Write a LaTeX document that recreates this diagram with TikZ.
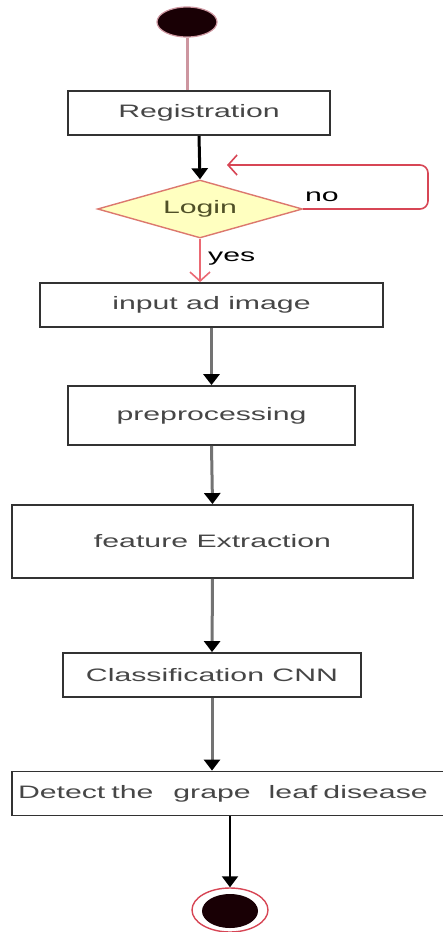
\documentclass[tikz,border=0pt]{standalone}
\usepackage{fontspec}
\newfontfamily\flowfont{Liberation Sans}[FakeStretch=1.68]
\usetikzlibrary{shapes.geometric,arrows.meta,positioning}
\definecolor{boxcolor}{RGB}{50, 50, 50}
\definecolor{textcolor}{RGB}{70, 70, 70}
\definecolor{flowgray}{RGB}{115, 115, 115}
\definecolor{startedge}{RGB}{205, 150, 160}
\definecolor{nocolor}{RGB}{215, 70, 85}
\definecolor{yescolor}{RGB}{235, 105, 115}
\definecolor{diamondfill}{RGB}{255, 255, 192}
\definecolor{diamondedge}{RGB}{220, 120, 110}
\definecolor{logincolor}{RGB}{80, 80, 40}
\definecolor{dotcolor}{RGB}{25, 0, 5}

\begin{document}
\begin{tikzpicture}[
        x=1pt, y=-1pt,
        font=\flowfont\fontsize{18}{21}\selectfont,
        activity/.style={rectangle, draw=boxcolor, line width=1.8pt, text=textcolor, inner sep=0pt},
        decision/.style={diamond, draw=diamondedge, fill=diamondfill, line width=1.4pt, shape aspect=3.5, inner sep=0pt, text=logincolor},
        dot/.style={ellipse, fill=dotcolor, inner sep=0pt},
        flow/.style={-{Triangle[color=black, length=11pt, width=16pt]}, line width=3pt, flowgray},
        redflow/.style={-{Straight Barb[length=9pt, width=20pt]}, line width=1.6pt}
    ]
        \clip (0,0) rectangle (443,932);

        % Start
        \node[dot, draw=startedge, line width=1.2pt, minimum width=60pt, minimum height=30pt] (start) at (187,22) {};

        % Activities
        \node[activity, minimum width=262pt, minimum height=44pt] (reg) at (199,113) {Registration};
        \node[decision, minimum width=205pt, minimum height=58pt] (login) at (200,209) {Login};
        \node[activity, minimum width=343pt, minimum height=44pt] (input) at (211.5,305) {input ad image};
        \node[activity, minimum width=287pt, minimum height=59pt] (prep) at (211.5,415.5) {preprocessing};
        \node[activity, minimum width=401pt, minimum height=73pt] (feat) at (212.5,541.5) {feature Extraction};
        \node[activity, minimum width=298pt, minimum height=44pt] (cls) at (212,675) {Classification CNN};
        \node[activity, inner xsep=6pt, text width=445pt, align=left, minimum height=44pt] (detect) at (240.5,793.5) {Detect the\hspace{20pt}grape\hspace{18pt}leaf disease};

        % End
        \node[ellipse, draw=nocolor, line width=1.4pt, minimum width=76pt, minimum height=44pt, inner sep=0pt] (end) at (230,910) {};
        \node[dot, minimum width=56pt, minimum height=34pt] (endcore) at (230,911) {};

        % Login loop
        \coordinate (turn) at (428,165);
        \coordinate (back) at (227,165);

        % Connections
        \draw[startedge, line width=3pt] (start.south) -- (start.south |- reg.north);
        \draw[-{Triangle[length=11pt, width=16pt]}, line width=3pt, black] (reg.south) -- (login.north);
        \draw[redflow, nocolor, rounded corners=8pt] (login.east) -| (turn) -- (back);
        \node[text=black] (nolabel) at (322,197) {no};
        \draw[redflow, yescolor] (login.south) -- (login.south |- input.north)
            node[pos=0.45, right=4pt, text=black] (yeslabel) {yes};
        \draw[flow] (input.south) -- (prep.north);
        \draw[flow] (prep.south) -- (feat.north);
        \draw[flow] (feat.south) -- (cls.north);
        \draw[flow] (cls.south) -- (cls.south |- detect.north);
        \draw[-{Triangle[length=11pt, width=16pt]}, line width=2pt, black] (end.north |- detect.south) -- (end.north);

    \end{tikzpicture}
\end{document}
